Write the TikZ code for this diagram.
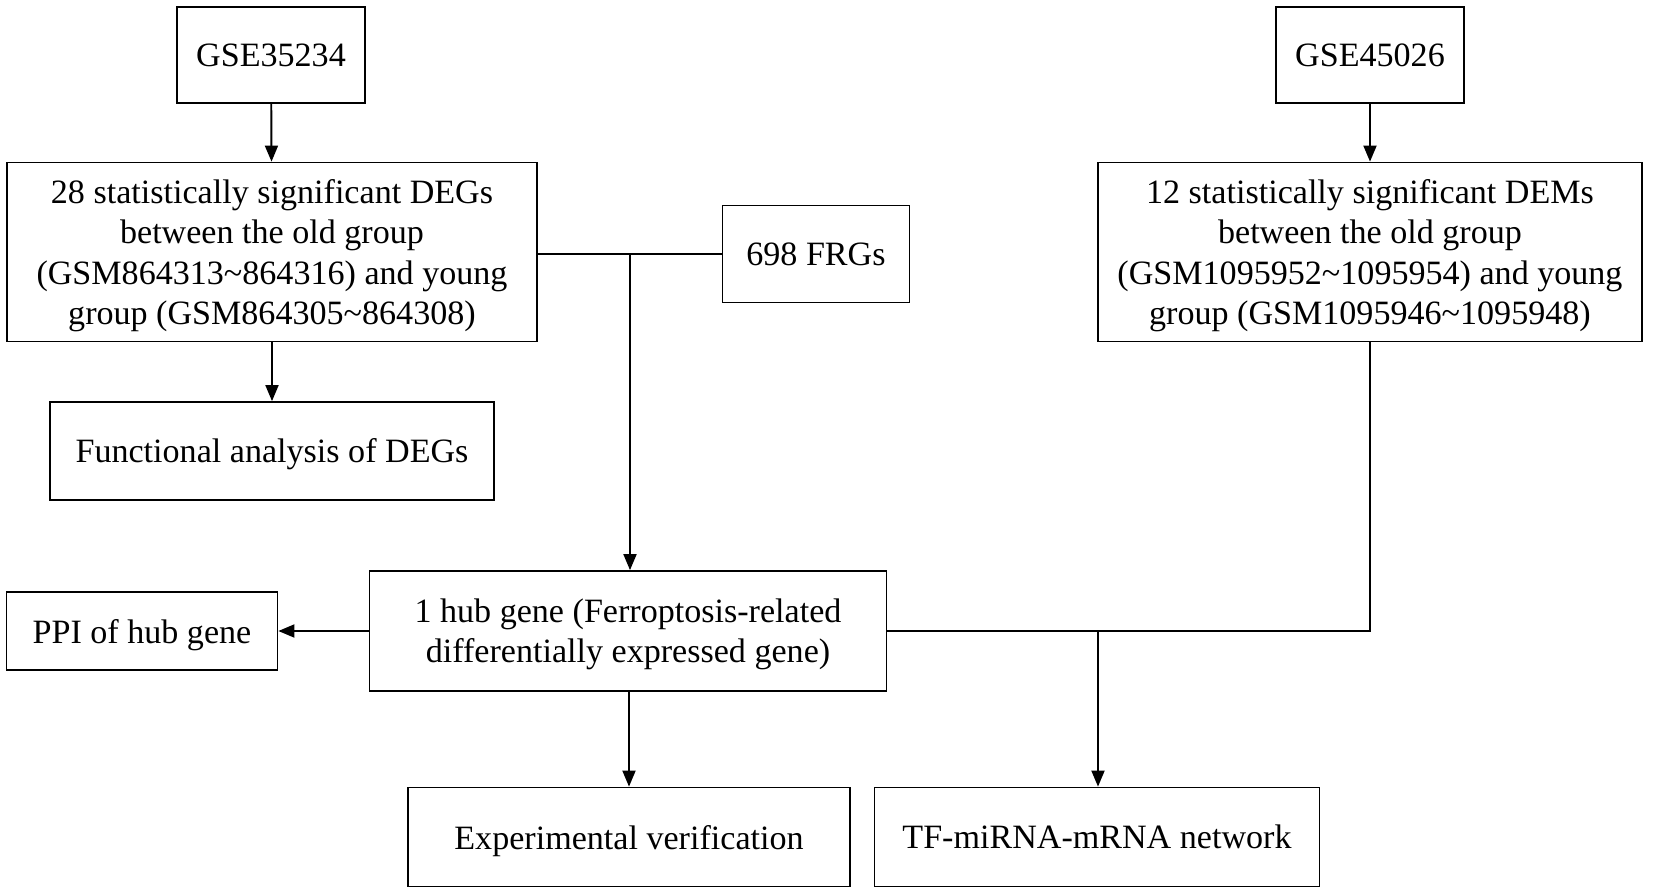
\documentclass[tikz,border=0pt]{standalone}
\usepackage{fontspec}
\setmainfont{Liberation Serif}
\usepackage{tikz}
\usetikzlibrary{arrows,positioning}

\begin{document}
\begin{tikzpicture} %
		[
			x=0.02cm, y=-0.02cm,
			font={\fontsize{19.4}{22.8}\selectfont},
			every text node part/.style={align=center},
			box/.style={
				anchor=center,
				draw,
				line width=1.1pt,
				inner sep=0,
				text depth=0pt,
			},
			arch/.style={-triangle 45, line width=1.1pt},
			link/.style={line width=1.1pt},
		]
		\useasboundingbox (0,0) rectangle (1654,895);
		\node[box, minimum width=188*0.02cm, minimum height=96*0.02cm] (gse1) at (271,55) {GSE35234};
		\node[box, minimum width=530*0.02cm, minimum height=179*0.02cm] (degs) at (272,252)
		{28 statistically significant DEGs\\between the old group\\(GSM864313\textasciitilde864316) and young\\group (GSM864305\textasciitilde864308)};
		\node[box, minimum width=444*0.02cm, minimum height=98*0.02cm] (func) at (272,451) {Functional analysis of DEGs};
		\node[box, minimum width=187*0.02cm, minimum height=97*0.02cm] (frgs) at (816,254) {698 FRGs};
		\node[box, minimum width=188*0.02cm, minimum height=96*0.02cm] (gse2) at (1370,55) {GSE45026};
		\node[box, minimum width=544*0.02cm, minimum height=179*0.02cm] (dems) at (1370,252)
		{12 statistically significant DEMs\\between the old group\\(GSM1095952\textasciitilde1095954) and young\\group (GSM1095946\textasciitilde1095948)};
		\node[box, minimum width=517*0.02cm, minimum height=120*0.02cm] (hub) at (628,631)
		{1 hub gene (Ferroptosis-related\\differentially expressed gene)};
		\node[box, minimum width=271*0.02cm, minimum height=78*0.02cm] (ppi) at (142,631) {PPI of hub gene};
		\node[box, minimum width=442*0.02cm, minimum height=99*0.02cm] (exp) at (629,837) {Experimental verification};
		\node[box, minimum width=445*0.02cm, minimum height=99*0.02cm] (net) at (1097,837) {TF-miRNA-mRNA network};
		
		\coordinate (merge1) at (630,254);
		\coordinate (merge2) at (1370,631);
		\coordinate (split2) at (1098,631);
		
		\draw[arch] (gse1) -- (degs);
		\draw[arch] (gse2) -- (dems);
		\draw[arch] (degs) -- (func);
		\draw[link] (degs.east |- merge1) -- (frgs.west);
		\draw[arch] (merge1) -- (hub.north -| merge1);
		\draw[link] (dems.south) -- (merge2) -- (hub.east);
		\draw[arch] (split2) -- (net.north -| split2);
		\draw[arch] (hub.west) -- (ppi.east);
		\draw[arch] (hub.south -| exp.north) -- (exp.north);
	\end{tikzpicture}
\end{document}
